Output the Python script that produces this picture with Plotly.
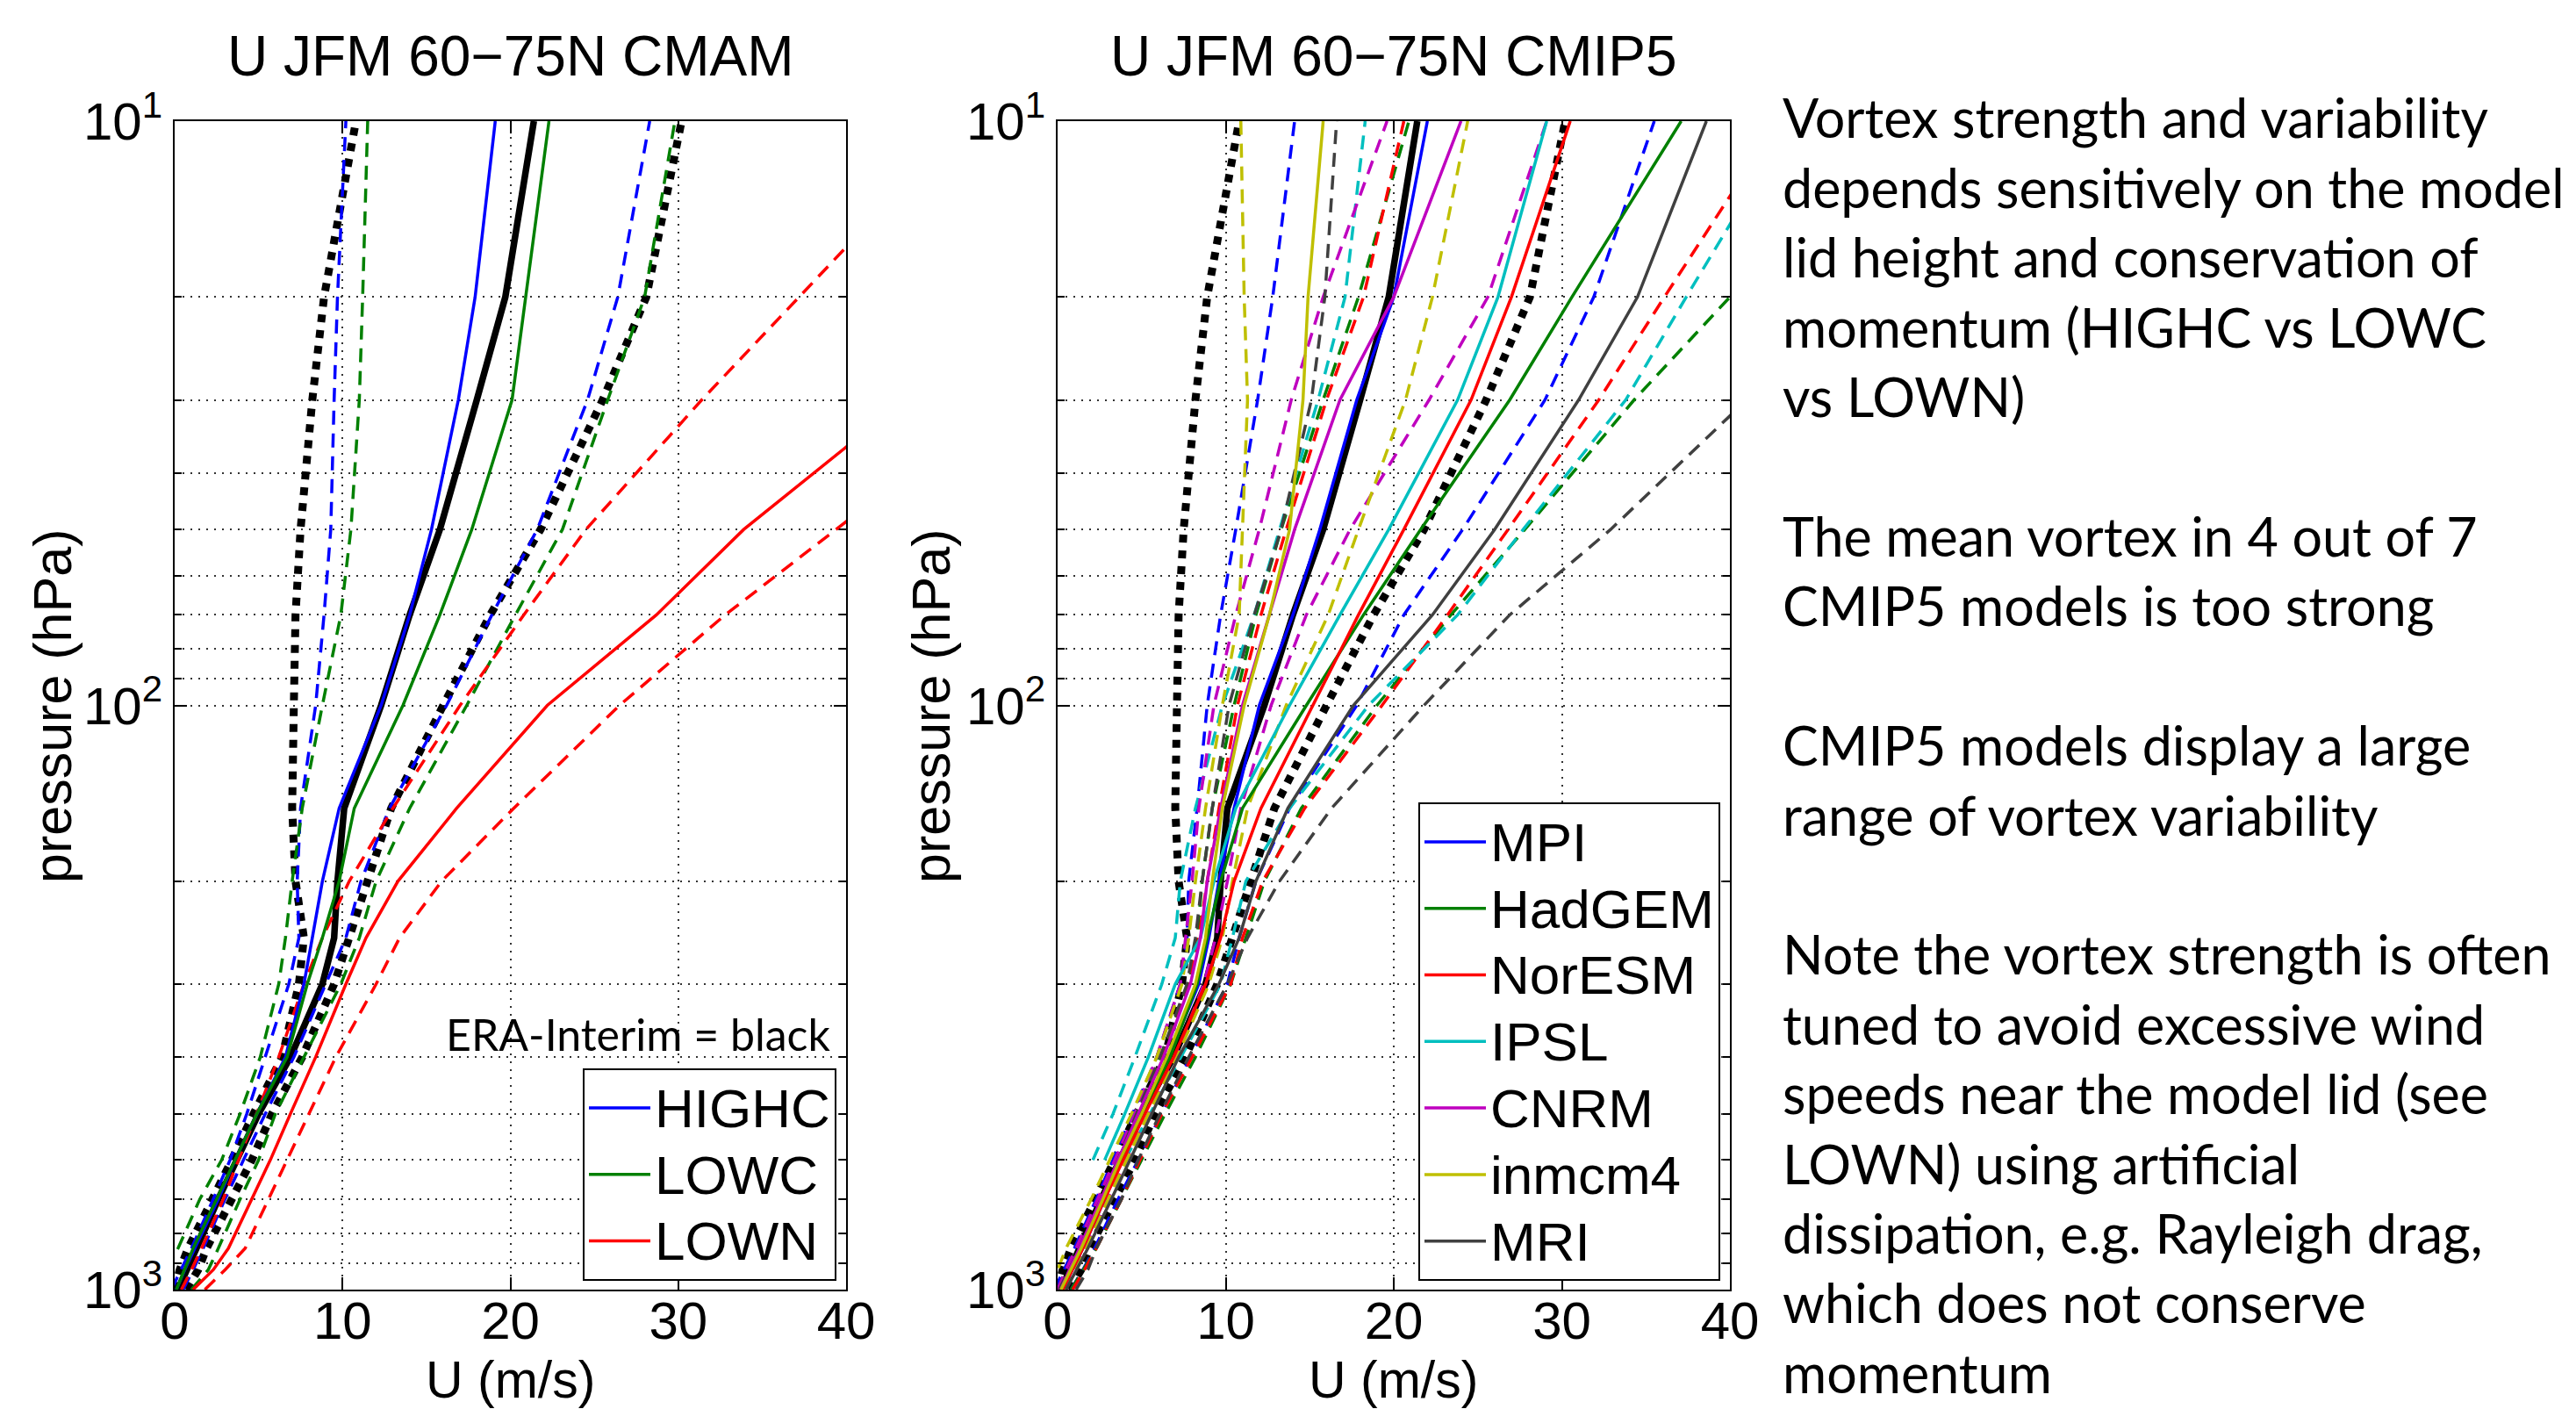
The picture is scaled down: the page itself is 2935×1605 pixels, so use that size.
import plotly.graph_objects as go

W, H = 2935, 1605

# pressure levels (hPa)
P = [1000, 925, 850, 700, 600, 500, 400, 300, 250, 200, 150, 100, 70, 50, 30, 20, 10]

# ERA-Interim (black): mean and +/- spread
era_mean = [0.2, 0.75, 1.3, 2.6, 3.7, 5.0, 6.9, 8.8, 9.5, 9.7, 10.1, 12.3, 14.0, 15.8, 18.0, 19.7, 21.4]
era_lo = [0.0, 0.3, 0.8, 2.3, 3.4, 4.7, 6.4, 7.4, 7.7, 7.2, 7.0, 7.1, 7.2, 7.5, 8.2, 8.9, 10.8]
era_hi = [0.7, 1.4, 1.9, 3.4, 4.6, 5.8, 7.6, 9.5, 10.4, 11.4, 12.9, 16.0, 18.8, 21.8, 25.5, 28.1, 30.2]

# CMAM
highc_mean = [0.1, 0.6, 1.2, 2.6, 3.6, 4.9, 6.6, 7.7, 8.2, 8.8, 9.8, 12.3, 14.0, 15.3, 16.9, 17.9, 19.1]
highc_lo = [-0.2, 0.4, 1.0, 2.3, 3.3, 4.3, 5.4, 6.8, 7.4, 7.3, 7.5, 8.4, 8.9, 9.3, 9.5, 9.7, 10.2]
highc_hi = [0.5, 1.1, 1.7, 3.0, 4.1, 5.4, 7.1, 9.0, 10.2, 11.1, 12.8, 16.2, 18.9, 21.6, 24.6, 26.4, 28.3]
lowc_mean = [0.1, 0.6, 1.1, 2.5, 3.6, 4.9, 6.7, 7.9, 8.8, 9.8, 10.7, 13.6, 15.8, 17.7, 20.1, 20.9, 22.3]
lowc_lo = [-1.1, -0.5, 0.2, 1.5, 2.8, 3.9, 5.1, 6.2, 6.6, 7.0, 7.6, 8.8, 9.9, 10.5, 11.0, 11.2, 11.5]
lowc_hi = [1.0, 2.0, 2.6, 3.9, 5.0, 6.0, 7.7, 9.9, 11.0, 12.0, 14.0, 17.4, 20.3, 23.1, 25.8, 28.0, 29.8]
lown_mean = [1.1, 2.3, 3.2, 4.6, 5.7, 6.9, 8.4, 10.2, 11.4, 13.3, 16.8, 22.2, 28.7, 33.9, 43.5, 50.0, 61.0]
lown_lo = [0.4, 1.0, 1.6, 2.9, 3.8, 4.9, 6.2, 7.7, 8.8, 10.4, 13.0, 17.0, 20.8, 24.5, 31.4, 37.2, 47.1]
lown_hi = [1.8, 3.0, 4.2, 5.6, 6.7, 8.0, 9.6, 12.0, 13.4, 15.9, 20.2, 26.5, 32.8, 39.4, 49.4, 57.4, 71.0]

# CMIP5
mpi_mean = [0.3, 0.9, 1.5, 2.8, 3.8, 5.0, 6.6, 8.4, 9.0, 9.6, 10.5, 12.0, 14.0, 15.6, 17.8, 20.0, 22.0]
mpi_lo = [-0.2, 0.4, 1.0, 2.3, 3.3, 4.5, 5.9, 7.3, 7.7, 7.8, 8.3, 8.9, 9.7, 10.6, 11.9, 12.8, 14.1]
mpi_hi = [0.8, 1.5, 2.2, 3.6, 4.8, 6.2, 7.9, 10.1, 10.8, 11.8, 13.8, 17.8, 20.6, 24.1, 29.0, 31.9, 35.5]
had_mean = [0.3, 0.8, 1.4, 2.7, 3.8, 5.0, 6.7, 8.3, 8.9, 9.7, 11.0, 14.8, 18.2, 21.6, 26.9, 30.6, 37.1]
had_lo = [0.0, 0.5, 1.1, 2.4, 3.5, 4.7, 6.1, 7.8, 8.3, 8.6, 9.2, 10.5, 11.8, 13.3, 15.8, 17.9, 20.9]
had_hi = [0.8, 1.5, 2.3, 3.8, 5.0, 6.4, 8.2, 10.3, 11.2, 12.3, 14.5, 19.0, 23.4, 27.8, 34.3, 40.0, 49.5]
nor_mean = [0.3, 0.9, 1.5, 2.8, 3.9, 5.2, 6.9, 8.8, 9.7, 10.5, 12.1, 15.2, 17.9, 20.6, 24.6, 27.0, 30.5]
nor_lo = [0.1, 0.7, 1.3, 2.6, 3.6, 4.8, 6.2, 7.8, 8.4, 8.9, 9.6, 10.7, 12.1, 13.6, 16.0, 18.2, 20.6]
nor_hi = [0.9, 1.6, 2.3, 3.8, 4.9, 6.2, 8.0, 10.3, 11.0, 12.2, 14.7, 19.3, 23.2, 26.8, 32.2, 36.1, 42.9]
ipsl_mean = [None, None, None, None, 2.8, 4.0, 5.4, 7.0, 8.5, 9.3, 10.6, 13.8, 16.8, 19.7, 23.8, 26.2, 29.1]
ipsl_lo = [None, None, None, None, 2.1, 3.3, 4.6, 6.2, 7.0, 7.3, 8.2, 9.8, 11.7, 13.2, 15.5, 17.1, 18.3]
ipsl_hi = [None, None, None, None, 4.0, 5.5, 7.3, 9.7, 10.4, 11.2, 13.8, 18.5, 23.8, 27.7, 33.8, 37.4, 43.7]
cnrm_mean = [0.2, 0.7, 1.3, 2.6, 3.6, 4.8, 6.3, 7.9, 8.5, 8.9, 9.7, 11.0, 12.6, 14.1, 16.8, 20.0, 24.0]
cnrm_lo = [0.0, 0.5, 1.1, 2.4, 3.4, 4.6, 5.9, 7.3, 7.6, 8.0, 8.4, 9.3, 10.6, 12.0, 13.9, 15.8, 19.6]
cnrm_hi = [0.5, 1.0, 1.7, 3.0, 4.1, 5.4, 7.0, 8.7, 9.4, 10.1, 10.9, 12.7, 14.8, 17.4, 22.1, 25.6, 29.1]
inm_mean = [0.2, 0.8, 1.4, 2.7, 3.7, 5.0, 6.5, 8.2, 8.8, 9.2, 9.8, 11.1, 12.6, 13.8, 14.6, 14.9, 15.8]
inm_lo = [-0.4, 0.0, 0.5, 2.0, 3.1, 4.4, 5.9, 7.4, 7.8, 8.2, 8.8, 9.8, 10.8, 11.0, 11.3, 11.1, 10.9]
inm_hi = [0.4, 1.0, 1.7, 3.0, 4.1, 5.4, 7.1, 9.0, 9.8, 10.4, 11.3, 13.6, 16.1, 17.9, 20.7, 22.3, 24.4]
mri_mean = [0.5, 1.1, 1.8, 3.2, 4.3, 5.6, 7.2, 9.6, 10.8, 11.8, 13.7, 17.6, 22.3, 26.0, 31.0, 34.5, 38.6]
mri_lo = [0.1, 0.7, 1.3, 2.6, 3.6, 4.7, 6.1, 7.7, 8.2, 8.6, 9.2, 10.2, 11.7, 13.3, 15.1, 15.9, 16.6]
mri_hi = [1.1, 1.8, 2.3, 3.8, 4.8, 6.1, 7.8, 10.1, 11.3, 13.2, 16.3, 21.8, 26.9, 32.9, 41.0, 46.6, 57.1]

# axis ticks
U_TICKS = [0, 10, 20, 30, 40]
P_TICKS = [10, 100, 1000]
P_LABELS = ["10<sup>1</sup>", "10<sup>2</sup>", "10<sup>3</sup>"]
P_MINOR = [20, 30, 40, 50, 60, 70, 80, 90, 200, 300, 400, 500, 600, 700, 800, 900]

TITLES = ["U JFM 60\u221275N CMAM", "U JFM 60\u221275N CMIP5"]
X_TITLE = "U (m/s)"
Y_TITLE = "pressure (hPa)"
NOTE = "ERA-Interim = black"

TEXT_LINES = [
    "Vortex strength and variability",
    "depends sensitively on the model",
    "lid height and conservation of",
    "momentum (HIGHC vs LOWC",
    "vs LOWN)",
    "",
    "The mean vortex in 4 out of 7",
    "CMIP5 models is too strong",
    "",
    "CMIP5 models display a large",
    "range of vortex variability",
    "",
    "Note the vortex strength is often",
    "tuned to avoid excessive wind",
    "speeds near the model lid (see",
    "LOWN) using artificial",
    "dissipation, e.g. Rayleigh drag,",
    "which does not conserve",
    "momentum",
]

BLUE, GREEN, RED = "#0000FF", "#008000", "#FF0000"
CYAN, MAG, YEL, GRAY = "#00BFBF", "#BF00BF", "#BFBF00", "#404040"

cmam = [("HIGHC", BLUE, highc_mean, highc_lo, highc_hi),
        ("LOWC", GREEN, lowc_mean, lowc_lo, lowc_hi),
        ("LOWN", RED, lown_mean, lown_lo, lown_hi)]
cmip = [("MPI", BLUE, mpi_mean, mpi_lo, mpi_hi),
        ("HadGEM", GREEN, had_mean, had_lo, had_hi),
        ("NorESM", RED, nor_mean, nor_lo, nor_hi),
        ("IPSL", CYAN, ipsl_mean, ipsl_lo, ipsl_hi),
        ("CNRM", MAG, cnrm_mean, cnrm_lo, cnrm_hi),
        ("inmcm4", YEL, inm_mean, inm_lo, inm_hi),
        ("MRI", GRAY, mri_mean, mri_lo, mri_hi)]

DASH = "16px,10px"
LEG_TEXT_SIZE = 62
fig = go.Figure()


def line(xa, ya, x, color, width, dash, name=None, legend=None):
    kw = dict(x=x, y=P, mode="lines", xaxis=xa, yaxis=ya, hoverinfo="skip",
              line=dict(color=color, width=width, dash=dash),
              showlegend=name is not None,
              name=(f'<span style="font-size:{LEG_TEXT_SIZE}px">{name}</span>' if name else ""))
    if legend:
        kw["legend"] = legend
    fig.add_trace(go.Scatter(**kw))


for xa, ya, models, leg in [("x", "y", cmam, "legend"), ("x2", "y2", cmip, "legend2")]:
    line(xa, ya, era_lo, "black", 9, "dot")
    line(xa, ya, era_hi, "black", 9, "dot")
    line(xa, ya, era_mean, "black", 7.5, "solid")
    for name, col, m, lo, hi in models:
        line(xa, ya, lo, col, 3.5, DASH)
        line(xa, ya, hi, col, 3.5, DASH)
    for name, col, m, lo, hi in models:
        line(xa, ya, m, col, 3.5, "solid", name=name, legend=leg)

FONT = "Liberation Sans, Arial, sans-serif"
GRID = dict(showgrid=True, gridcolor="#333333", gridwidth=1.5, griddash="2px,7px")
common = dict(showline=True, linecolor="black", linewidth=2, mirror="ticks",
              ticks="inside", ticklen=14, tickwidth=2, tickcolor="black",
              zeroline=False, automargin=False,
              tickfont=dict(family=FONT, size=60, color="black"), **GRID)
minor_y = dict(tickvals=P_MINOR, ticks="inside", ticklen=8, tickwidth=2, tickcolor="black", **GRID)

ydom = [1 - 1469 / H, 1 - 138 / H]
XL = [199, 964]
XR = [1205, 1971]

legend_common = dict(yanchor="bottom", y=1 - 1459 / H, xanchor="right",
                     bordercolor="black", borderwidth=2, bgcolor="white", itemwidth=70,
                     font=dict(family=FONT, size=56, color="black"), tracegroupgap=0)

layout = dict(
    width=W, height=H, margin=dict(l=0, r=0, t=0, b=0, autoexpand=False),
    paper_bgcolor="white", plot_bgcolor="white",
    xaxis=dict(common, domain=[XL[0] / W, XL[1] / W], range=[0, 40], tickvals=U_TICKS, anchor="y",
               ticklabelstandoff=-18),
    yaxis=dict(common, domain=ydom, type="log", range=[3, 1], tickvals=P_TICKS, ticktext=P_LABELS,
               anchor="x", minor=minor_y),
    xaxis2=dict(common, domain=[XR[0] / W, XR[1] / W], range=[0, 40], tickvals=U_TICKS, anchor="y2",
                ticklabelstandoff=-18),
    yaxis2=dict(common, domain=ydom, type="log", range=[3, 1], tickvals=P_TICKS, ticktext=P_LABELS,
                anchor="x2", minor=minor_y),
    legend=dict(legend_common, x=953 / W),
    legend2=dict(legend_common, x=1960 / W),
    showlegend=True,
)
fig.update_layout(**layout)


def ann(text, xpx, ypx, size, family=FONT, xanchor="center", angle=0):
    return dict(text=text, x=xpx / W, y=1 - ypx / H, xref="paper", yref="paper",
                xanchor=xanchor, yanchor="middle", showarrow=False, textangle=angle,
                font=dict(family=family, size=size, color="black"))


anns = []
for t, (a, b), ylab_x in [(TITLES[0], XL, 60), (TITLES[1], XR, 1061)]:
    xc = (a + b) / 2
    anns.append(ann(t, xc, 64, 64))
    anns.append(ann(X_TITLE, xc, 1572, 59))
    anns.append(ann(Y_TITLE, ylab_x, 805, 61, angle=-90))
anns.append(ann(NOTE, 948, 1178, 50, family="Lato", xanchor="right"))
for k, t in enumerate(TEXT_LINES):
    if not t:
        continue
    anns.append(ann(t, 2029, 134 + 79.4 * k, 61, family="Lato", xanchor="left"))
fig.update_layout(annotations=anns)

fig.write_html("out.html", config={"displayModeBar": False},
               post_script="document.body.style.margin='0';document.body.style.overflow='hidden';")
